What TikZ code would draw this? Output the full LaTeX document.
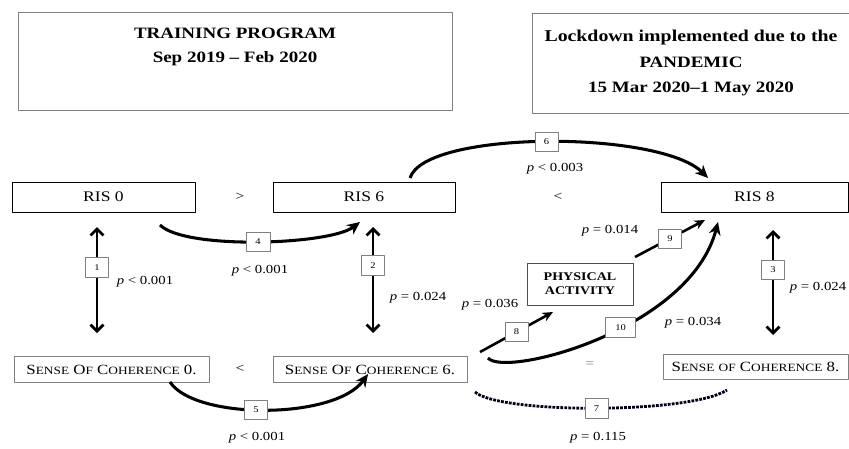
\documentclass[tikz,border=0pt]{standalone}
\usepackage{fontspec}
\setmainfont[FakeStretch=1.2]{Liberation Serif}
\usetikzlibrary{arrows.meta}
\newcommand{\smc}[1]{{\fontsize{9.5}{11}\selectfont #1}}
\begin{document}
\begin{tikzpicture}[x=0.03cm,y=-0.03cm,line join=round,
  frame/.style={draw=gray,line width=0.8pt},
  risbox/.style={draw,line width=0.8pt,minimum height=0.9cm,font=\fontsize{12.5}{14}\selectfont},
  socbox/.style={draw=gray,line width=0.8pt,minimum height=0.8cm,font=\fontsize{12}{14}\selectfont},
  numbox/.style={draw=gray,solid,fill=white,line width=0.5pt,minimum width=0.7cm,minimum height=0.58cm,inner sep=1pt,font=\fontsize{7.5}{8}\selectfont},
  pval/.style={font=\fontsize{10.5}{12}\selectfont},
  rel/.style={font=\fontsize{11}{12}\selectfont},
  dbl/.style={{Straight Barb[length=5.5pt,width=11pt]}-{Straight Barb[length=5.5pt,width=11pt]},line width=2.4pt},
  curvearrow/.style={-{Stealth[length=11pt,width=10pt]},line width=2.6pt},
  ]
\clip (0,0) rectangle (849,448);
\useasboundingbox (0,0) rectangle (849,448);
\node[frame,minimum width=13.02cm,minimum height=2.94cm] (train) at (235,61) {};
\node[align=center,font=\bfseries\fontsize{13.5}{21}\selectfont] (traint) at (235,47) {TRAINING PROGRAM\\Sep 2019 -- Feb 2020};
\node[frame,minimum width=10.5cm,minimum height=3cm] (lock) at (707,63) {};
\node[align=center,font=\bfseries\fontsize{13.5}{22}\selectfont] (lockt) at (691,63) {{\fontsize{14.1}{22}\selectfont Lockdown implemented due to the}\\PANDEMIC\\15 Mar 2020--1 May 2020};
\node[risbox,minimum width=5.49cm] (ris0) at (103.5,197) {RIS 0};
\node[risbox,minimum width=5.46cm] (ris6) at (364,197) {RIS 6};
\node[risbox,minimum width=5.61cm] (ris8) at (754.5,197) {RIS 8};
\node[socbox,minimum width=5.85cm] (soc0) at (111.5,369.5) {S\smc{ENSE} O\smc{F} C\smc{OHERENCE} 0.};
\node[socbox,minimum width=5.82cm] (soc6) at (370,369.5) {S\smc{ENSE} O\smc{F} C\smc{OHERENCE} 6.};
\node[socbox,minimum width=5.55cm,minimum height=0.75cm] (soc8) at (755.5,366.5) {S\smc{ENSE} \smc{OF} C\smc{OHERENCE} 8.};
\node[draw=black!70,line width=0.8pt,minimum width=3.18cm,minimum height=1.26cm,align=center,font=\bfseries\fontsize{10}{12}\selectfont] (pa) at (580,284) {PHYSICAL\\ACTIVITY};
\node[rel] (gt) at (240,197) {>};
\node[rel] (lt1) at (558,197) {<};
\node[rel] (lt2) at (240,369) {<};
\node[rel,text=gray] (eq) at (590,365) {=};
\coordinate (v1a) at (97,227);
\coordinate (v1b) at (97,333);
\coordinate (v2a) at (373,227);
\coordinate (v2b) at (373,333);
\coordinate (v3a) at (773,230);
\coordinate (v3b) at (773,335);
\coordinate (c4a) at (160,225);
\coordinate (c4b) at (360,222);
\coordinate (c5a) at (170,382);
\coordinate (c5b) at (368,374);
\coordinate (c6a) at (410,178);
\coordinate (c6b) at (708,178);
\coordinate (d7a) at (475,392);
\coordinate (d7b) at (727,390);
\coordinate (a8a) at (480,352);
\coordinate (a8b) at (553,312);
\coordinate (a9a) at (635,257);
\coordinate (a9b) at (705,220);
\coordinate (c10a) at (488,358);
\coordinate (c10b) at (718,222);
\draw[dbl] (v1a) -- node[numbox,pos=0.38] {1} (v1b);
\draw[dbl] (v2a) -- node[numbox,pos=0.36] {2} (v2b);
\draw[dbl] (v3a) -- node[numbox,pos=0.38] {3} (v3b);
\draw[curvearrow] (c4a) .. controls (185,250) and (330,245) .. node[numbox] {4} (c4b);
\draw[curvearrow] (c5a) .. controls (195,420) and (335,420) .. node[numbox,pos=0.46] {5} (c5b);
\draw[curvearrow] (c6a) .. controls (425,130) and (660,130) .. node[numbox] {6} (c6b);
\draw[densely dotted,line width=2.4pt,black!90!blue] (d7a) .. controls (500,414) and (690,414) .. node[numbox,text=black] {7} (d7b);
\draw[-{Stealth[length=9pt,width=8pt]},line width=2.2pt] (a8a) -- node[numbox] {8} (a8b);
\draw[-{Stealth[length=9pt,width=8pt]},line width=2.2pt] (a9a) -- node[numbox] {9} (a9b);
\draw[curvearrow] (c10a) .. controls (505,378) and (690,330) .. node[numbox,pos=0.57,minimum width=0.9cm] {10} (c10b);
\node[pval] (p1) at (145,282) {\textit{p} < 0.001};
\node[pval] (p4) at (260,271) {\textit{p} < 0.001};
\node[pval] (p2) at (418,298) {\textit{p} = 0.024};
\node[pval] (p5) at (257,438) {\textit{p} < 0.001};
\node[pval] (p6) at (555,169) {\textit{p} < 0.003};
\node[pval] (p9) at (610,231) {\textit{p} = 0.014};
\node[pval] (p8) at (490,305) {\textit{p} = 0.036};
\node[pval] (p10) at (693,323) {\textit{p} = 0.034};
\node[pval] (p3) at (818,288) {\textit{p} = 0.024};
\node[pval] (p7) at (598,438) {\textit{p} = 0.115};
\end{tikzpicture}
\end{document}
